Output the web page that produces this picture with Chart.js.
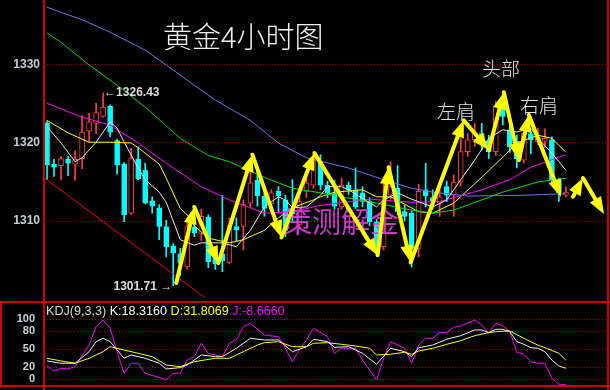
<!DOCTYPE html>
<html>
<head>
<meta charset="utf-8">
<script src="https://cdn.jsdelivr.net/npm/chart.js@4.4.1/dist/chart.umd.min.js"></script>
<style>
  html, body { margin: 0; padding: 0; background: #000; }
  #wrap { position: relative; width: 610px; height: 390px; background: #000; overflow: hidden; }
  #main { position: absolute; left: 0; top: 0; }
  #kdj { position: absolute; left: 0; top: 301px; }
</style>
</head>
<body>
<div id="wrap">
  <canvas id="main" width="610" height="301"></canvas>
  <canvas id="kdj" width="610" height="89"></canvas>
</div>
<script>
// 4h gold candles, oldest first
const open  = [1322.6,1317.3,1317.1,1317.9,1317.3,1318.0,1321.5,1322.5,1323.4,1324.7,1320.3,1317.3,1311.0,1317.9,1316.5,1312.6,1311.7,1309.3,1306.8,1305.8,
               1304.1,1309.2,1308.4,1310.5,1305.5,1305.8,1304.7,1309.3,1309.3,1312.3,1315.2,1313.2,1312.2,1313.8,1312.7,1311.5,1309.5,1313.8,1314.6,1317.6,
               1314.6,1313.5,1311.8,1314.6,1314.0,1313.6,1312.5,1309.9,1306.7,1313.3,1314.2,1311.2,1311.0,1306.5,1314.0,1313.0,1312.3,1314.4,1313.3,1315.0,
               1318.9,1320.4,1321.2,1320.2,1318.9,1324.7,1321.7,1320.2,1317.8,1321.2,1320.2,1320.2,1320.4,1315.3,1313.3];
const high  = [1322.8,1317.9,1318.3,1318.3,1319.0,1323.5,1323.8,1325.1,1326.43,1324.9,1320.5,1317.5,1319.3,1319.5,1317.4,1313.1,1312.1,1310.1,1307.1,1306.5,
               1309.7,1311.4,1311.5,1310.8,1306.5,1313.3,1310.4,1310.4,1312.7,1316.5,1316.4,1314.1,1314.0,1314.4,1313.3,1315.3,1313.5,1315.7,1318.9,1318.5,
               1315.1,1315.2,1315.5,1315.0,1316.8,1314.4,1313.0,1310.2,1315.3,1317.6,1317.1,1312.0,1311.3,1314.7,1317.4,1314.0,1314.4,1315.1,1315.9,1320.6,
               1321.2,1322.5,1322.5,1321.0,1325.3,1325.8,1322.5,1321.0,1322.5,1321.5,1321.9,1321.8,1320.8,1315.5,1314.4];
const low   = [1315.3,1315.7,1315.3,1315.8,1315.2,1316.7,1320.2,1321.2,1323.3,1320.8,1316.0,1309.9,1310.8,1315.3,1312.2,1311.0,1307.6,1305.4,1301.71,1303.0,
               1303.8,1308.0,1307.5,1304.0,1303.8,1303.5,1304.5,1307.4,1306.3,1311.8,1311.9,1310.6,1310.9,1311.0,1308.0,1310.0,1309.0,1313.0,1314.2,1314.0,
               1313.0,1311.5,1311.5,1313.4,1311.6,1311.8,1309.4,1305.6,1306.3,1312.8,1310.8,1310.0,1304.1,1305.4,1311.8,1311.5,1310.6,1312.5,1310.6,1314.5,
               1318.3,1319.6,1319.1,1318.0,1318.4,1322.3,1318.8,1316.8,1317.4,1318.6,1319.8,1319.4,1314.8,1312.5,1313.1];
const close = [1317.2,1316.9,1318.0,1317.4,1317.9,1321.4,1322.7,1323.9,1324.6,1321.4,1317.2,1310.8,1318.0,1315.4,1312.3,1311.9,1309.3,1306.7,1305.9,1304.6,
               1309.3,1308.5,1310.6,1304.8,1304.5,1304.9,1309.5,1308.9,1312.1,1314.9,1313.2,1311.6,1313.6,1313.2,1308.8,1310.9,1312.5,1314.9,1318.1,1314.6,
               1313.6,1311.9,1314.6,1314.0,1311.8,1312.5,1309.9,1306.9,1312.5,1314.4,1311.2,1310.6,1306.5,1313.8,1313.2,1312.6,1313.1,1313.3,1315.0,1318.9,
               1320.4,1321.2,1320.0,1318.9,1324.7,1323.4,1319.5,1318.0,1321.2,1320.4,1320.8,1320.6,1315.3,1313.6,1313.7];

// moving averages (candle index, price)
const ma5Idx  = [0,2,4,5,7,9,10,11,13,14,16,17,19,21,22,25,27,29,31,33,34,35,37,39,40,42,43,45,47,48,50,52,55,57,59,61,63,65,67,69,70,72,74];
const ma5Val  = [1322.1,1320.0,1317.6,1318.1,1320.1,1322.7,1321.9,1320.1,1316.8,1315.3,1313.7,1312.4,1307.6,1306.9,1307.2,1307.2,1306.7,1308.8,1311.8,1313.1,
                 1312.7,1311.7,1311.8,1313.3,1314.4,1314.4,1314.0,1312.9,1311.8,1312.7,1313.6,1312.8,1311.8,1312.7,1315.3,1317.8,1320.6,1321.7,1321.4,1321.9,
                 1320.6,1318.7,1316.5];
const ma10Idx = [0,3,6,9,12,13,16,17,19,20,21,23,26,28,31,33,35,38,39,41,45,47,49,53,55,58,62,65,67,70,72,74];
const ma10Val = [1322.9,1321.3,1320.1,1320.1,1320.0,1319.4,1317.3,1315.5,1311.6,1310.8,1309.4,1307.8,1307.2,1307.6,1308.8,1310.4,1311.7,1312.7,1313.1,1313.7,
                 1314.0,1313.1,1313.1,1311.2,1311.0,1312.3,1315.6,1318.2,1320.0,1321.0,1320.6,1318.8];
const ma20Idx = [0,5,9,13,17,22,26,31,35,39,46,52,56,62,66,69,74];
const ma20Val = [1325.1,1323.3,1322.3,1320.0,1317.4,1314.4,1312.7,1311.0,1311.2,1312.0,1312.8,1312.4,1312.5,1314.0,1315.3,1316.9,1318.5];
const ma40Idx = [0,2,6,10,14,19,23,26,31,35,39,42,47,52,55,58,62,65,70,74];
const ma40Val = [1334.1,1332.9,1330.0,1327.4,1324.6,1320.6,1318.4,1317.6,1315.6,1314.2,1313.6,1313.1,1312.3,1311.4,1311.0,1311.4,1312.7,1313.7,1315.0,1315.5];
const ma60Idx = [0,5,9,14,17,21,24,29,33,37,43,48,52,55,60,68,74];
const ma60Val = [1337.4,1335.8,1334.2,1331.9,1330.0,1327.4,1325.5,1322.9,1320.0,1318.1,1316.8,1315.3,1314.2,1313.7,1313.2,1313.3,1313.5];

// red down-trend line
const trendIdx = [-0.3, 23.5];
const trendVal = [1315.5, 1299.5];

// hand-drawn yellow zigzag arrows
const arrowAIdx = [18.43,21.0,24.43,29.29,33.43,38.14,47.14,48.71,51.86,59.43,63.0,65.14,67.29,68.71,73.29];
const arrowAVal = [1302.05,1311.8,1304.6,1318.5,1307.9,1318.7,1305.6,1316.9,1304.7,1322.9,1319.1,1326.5,1317.8,1323.6,1313.1];
const arrowBIdx = [75.0,76.43,79.43];
const arrowBVal = [1313.1,1315.5,1310.9];

// KDJ(9,3,3)
const kIdx = [0,2,4,6,7,8,9,11,12,14,16,17,19,20,22,24,25,27,29,31,33,35,37,38,40,41,43,45,47,49,51,52,53,55,57,59,61,62,63,64,65,66,67,68,69,70,71,72,73,74];
const kVal = [30.5,26.7,26.7,46,62.7,68.3,62.7,35,40.5,35,26.7,17.2,19.4,23.8,40.5,37.7,37.7,51.7,68.3,65.5,
              65.5,46,54.3,66.7,62.7,53.3,54.3,43.3,25,51.7,46,37.7,52.7,57,66.7,72.7,82.2,82.2,77.8,83.3,
              83.3,79.4,62.7,58.3,52.7,51.7,46,32,22.2,18.3];
const dIdx = [0,2,4,6,8,9,11,13,15,17,19,21,24,26,28,30,31,33,35,37,38,40,42,44,46,47,49,51,52,53,55,57,59,61,63,64,66,68,70,71,73,74];
const dVal = [35,30.5,26.7,35,46,54.3,48.8,43.3,37.7,23.8,21,29.3,35,35,46,57,61,62.7,54.3,54.3,
              60,61,58.3,55.5,51.7,40.5,41.7,45,41.7,47.2,51.7,58.3,64.3,72.7,77.8,79.4,80.5,68.3,57,52.7,43.3,31.8];
const jIdx = [0,1,2,3,4,6,7,8,9,10,11,12,13,14,16,17,18,19,20,21,22,23,24,25,26,27,28,29,31,33,34,35,36,37,38,40,41,42,44,45,
              47,48,49,51,52,53,54,55,56,57,58,59,61,62,63,64,65,66,67,68,69,70,71,72,73,74];
const jVal = [22.7,13.8,18.3,17.2,21.1,57,87.7,98.8,85,46,10,26.7,26.7,10,2.8,-1.1,10,10,32,37.7,
              60,43,40.5,37.7,60,65.5,87.7,93.3,73.8,71,51.7,29.3,49,65.5,85,71,43.3,51.7,51.7,32,
              -1.1,35,62.7,51.7,26.7,57,68.3,68.3,77.8,77.8,86.7,88.8,98.8,90.5,76.7,93.3,89.3,79.4,45,41.7,
              29.3,26.7,26.7,1.7,-8.3,-8.7];
const kdjLast = ['18.3160', '31.8069', '-8.6660'];

const priceTicks = [1310, 1320, 1330];
const kdjTicks = [0, 20, 50, 80, 100];

const RED = '#ff3c3c';
const CYAN = '#00ffff';
const FRAME = '#d00000';
const GRID = '#b00000';

const pts = (xs, ys) => xs.map((x, k) => ({ x, y: ys[k] }));
const candleIdx = open.map((_, i) => i);
const isUp = candleIdx.map((i) => close[i] >= open[i]);

function lineSet(xs, ys, color, order) {
  return {
    type: 'line',
    data: pts(xs, ys),
    borderColor: color,
    borderWidth: 1,
    pointRadius: 0,
    tension: 0,
    order,
  };
}

// keep the plot area flush with the canvas edges
function fixAxis(s) {
  s.width = 44;
  s.paddingTop = 0;
  s.paddingBottom = 0;
}

function drawArrowPath(ctx, xs, ys) {
  for (let k = 1; k < xs.length; k++) {
    const [x0, y0, x1, y1] = [xs[k - 1], ys[k - 1], xs[k], ys[k]];
    const ang = Math.atan2(y1 - y0, x1 - x0);
    const headLen = 17, headW = 6.5;
    const bx = x1 - Math.cos(ang) * headLen;
    const by = y1 - Math.sin(ang) * headLen;
    ctx.beginPath();
    ctx.moveTo(x0, y0);
    ctx.lineTo(bx, by);
    ctx.stroke();
    ctx.beginPath();
    ctx.moveTo(x1, y1);
    ctx.lineTo(bx + Math.sin(ang) * headW, by - Math.cos(ang) * headW);
    ctx.lineTo(bx - Math.sin(ang) * headW, by + Math.cos(ang) * headW);
    ctx.closePath();
    ctx.fill();
  }
}

const annotations = {
  id: 'annotations',
  afterDatasetsDraw(chart) {
    const { ctx, scales: { x, y } } = chart;
    ctx.save();

    // watermark
    ctx.font = '29px "Noto Sans CJK SC"';
    ctx.fillStyle = 'rgba(230,60,230,0.9)';
    ctx.textBaseline = 'alphabetic';
    ctx.fillText('策测解金', 283, 233);

    // yellow zigzag
    ctx.strokeStyle = '#ffff00';
    ctx.fillStyle = '#ffff00';
    ctx.lineWidth = 4;
    ctx.lineCap = 'round';
    ctx.lineJoin = 'round';
    drawArrowPath(ctx, arrowAIdx.map((v) => x.getPixelForValue(v)), arrowAVal.map((v) => y.getPixelForValue(v)));
    drawArrowPath(ctx, arrowBIdx.map((v) => x.getPixelForValue(v)), arrowBVal.map((v) => y.getPixelForValue(v)));

    // titles
    ctx.fillStyle = '#f0f0f0';
    ctx.font = '300 29px "Noto Sans CJK SC"';
    ctx.fillText('黄金4小时图', 163, 48);
    ctx.fillStyle = '#e0e0e0';
    ctx.font = '300 19px "Noto Sans CJK SC"';
    ctx.fillText('头部', 482, 76);
    ctx.fillText('左肩', 437, 119);
    ctx.fillText('右肩', 520, 113);

    // extreme price labels
    ctx.font = 'bold 12px "Liberation Sans", "DejaVu Sans"';
    ctx.fillStyle = '#dcdcdc';
    ctx.textBaseline = 'middle';
    ctx.textAlign = 'left';
    ctx.fillText('\u2190' + high[8].toFixed(2), x.getPixelForValue(8) + 1, y.getPixelForValue(high[8]));
    ctx.textAlign = 'right';
    ctx.fillText(low[18].toFixed(2) + ' \u2192', x.getPixelForValue(18) - 1, y.getPixelForValue(low[18]) + 1);
    ctx.restore();
  },
  afterDraw(chart) {
    const { ctx, chartArea: a, height } = chart;
    ctx.save();
    ctx.strokeStyle = FRAME;
    ctx.lineWidth = 2;
    ctx.beginPath();
    ctx.moveTo(a.left, 0); ctx.lineTo(a.left, height);
    ctx.moveTo(a.right, 0); ctx.lineTo(a.right, height);
    ctx.stroke();
    ctx.restore();
  },
};

const kdjHeader = {
  id: 'kdjHeader',
  afterDraw(chart) {
    const { ctx, chartArea: a, height } = chart;
    ctx.save();
    ctx.strokeStyle = FRAME;
    ctx.lineWidth = 2;
    ctx.beginPath();
    ctx.moveTo(1, a.top); ctx.lineTo(1, a.bottom);
    ctx.moveTo(a.left, 0); ctx.lineTo(a.left, height);
    ctx.moveTo(a.right, 0); ctx.lineTo(a.right, height);
    ctx.moveTo(0, a.top); ctx.lineTo(chart.width, a.top);
    ctx.moveTo(0, a.bottom); ctx.lineTo(chart.width, a.bottom);
    ctx.stroke();

    const parts = [
      ['KDJ(9,3,3) ', '#d8d8d8'],
      ['K:' + kdjLast[0] + ' ', '#ffffff'],
      ['D:' + kdjLast[1] + ' ', '#ffff00'],
      ['J:' + kdjLast[2], '#ff00ff'],
    ];
    ctx.font = '12.6px "Liberation Sans", "DejaVu Sans"';
    ctx.textBaseline = 'middle';
    let px = a.left + 2;
    for (const [t, c] of parts) {
      ctx.fillStyle = c;
      ctx.fillText(t, px, a.top + 10);
      px += ctx.measureText(t).width;
    }
    ctx.restore();
  },
};

Chart.defaults.animation = false;
Chart.defaults.plugins.legend.display = false;
Chart.defaults.plugins.tooltip.enabled = false;

new Chart(document.getElementById('main'), {
  type: 'bar',
  data: {
    datasets: [
      lineSet(ma60Idx, ma60Val, '#7070f0', 3),
      lineSet(ma40Idx, ma40Val, '#00dd00', 3),
      lineSet(ma20Idx, ma20Val, '#ff00ff', 3),
      lineSet(ma10Idx, ma10Val, '#ffff00', 3),
      lineSet(ma5Idx, ma5Val, '#e8e8e8', 2),
      lineSet(trendIdx, trendVal, '#ff0000', 2),
      {
        type: 'bar',
        data: candleIdx.map((i) => ({ x: i, y: [open[i], close[i]] })),
        backgroundColor: candleIdx.map((i) => (isUp[i] ? '#000000' : CYAN)),
        borderColor: candleIdx.map((i) => (isUp[i] ? RED : CYAN)),
        borderWidth: 1,
        borderSkipped: false,
        barThickness: 5,
        grouped: false,
        order: 4,
      },
      {
        type: 'bar',
        data: candleIdx.map((i) => ({ x: i, y: [low[i], high[i]] })),
        backgroundColor: candleIdx.map((i) => (isUp[i] ? RED : CYAN)),
        barThickness: 1,
        grouped: false,
        order: 5,
      },
    ],
  },
  options: {
    responsive: false,
    devicePixelRatio: 1,
    layout: { padding: { left: 0, right: 2, top: 0, bottom: 3 } },
    scales: {
      x: { type: 'linear', min: -0.43, max: 80, offset: false, display: false },
      y: {
        position: 'left',
        min: 1300.13,
        max: 1338.33,
        afterFit: fixAxis,
        afterBuildTicks: (s) => { s.ticks = priceTicks.map((v) => ({ value: v })); },
        ticks: {
          color: '#c8ccd4', font: { family: 'Liberation Sans', size: 12, weight: 'bold' },
          padding: 4, autoSkip: false, callback: (v) => String(v),
        },
        grid: { color: GRID, drawTicks: false, lineWidth: 1 },
        border: { display: false, dash: [1, 2] },
      },
    },
  },
  plugins: [annotations],
});

new Chart(document.getElementById('kdj'), {
  type: 'line',
  data: {
    datasets: [
      lineSet(jIdx, jVal, '#ff00ff', 3),
      lineSet(dIdx, dVal, '#ffff00', 2),
      lineSet(kIdx, kVal, '#f0f0f0', 1),
    ],
  },
  options: {
    responsive: false,
    devicePixelRatio: 1,
    layout: { padding: { left: 0, right: 2, top: 1, bottom: 4 } },
    scales: {
      x: { type: 'linear', min: -0.43, max: 80, display: false },
      y: {
        position: 'left',
        min: -11.2,
        max: 128.8,
        afterFit: fixAxis,
        afterBuildTicks: (s) => { s.ticks = kdjTicks.map((v) => ({ value: v })); },
        ticks: {
          color: '#c8d0dc', font: { family: 'Liberation Sans', size: 11, weight: 'bold' },
          padding: 9, autoSkip: false, callback: (v) => String(v),
        },
        grid: { color: GRID, drawTicks: false, lineWidth: 1 },
        border: { display: false, dash: [1, 2] },
      },
    },
  },
  plugins: [kdjHeader],
});
</script>
</body>
</html>
